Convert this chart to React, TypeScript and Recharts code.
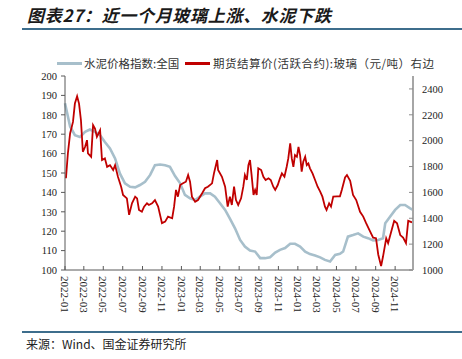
import { LineChart, Line, XAxis, YAxis } from "recharts";

const cementDates = [
  "2022-01-01", "2022-01-17", "2022-02-01", "2022-02-17", "2022-03-05", "2022-03-20", "2022-04-05", "2022-04-21",
  "2022-05-06", "2022-05-22", "2022-06-07", "2022-06-22", "2022-07-08", "2022-07-24", "2022-08-09", "2022-08-24",
  "2022-09-09", "2022-09-25", "2022-10-10", "2022-10-26", "2022-11-11", "2022-11-26", "2022-12-12", "2022-12-28",
  "2023-01-12", "2023-01-28", "2023-02-13", "2023-02-28", "2023-03-16", "2023-04-01", "2023-04-16", "2023-05-02",
  "2023-05-18", "2023-06-02", "2023-06-18", "2023-07-04", "2023-07-19", "2023-08-04", "2023-08-20", "2023-09-05",
  "2023-09-20", "2023-10-06", "2023-10-22", "2023-11-06", "2023-11-22", "2023-12-08", "2023-12-23",
  "2024-01-08", "2024-01-24", "2024-02-08", "2024-02-24", "2024-03-11", "2024-03-26", "2024-04-11", "2024-04-27",
  "2024-05-12", "2024-05-22", "2024-06-06", "2024-06-22", "2024-07-08", "2024-07-24", "2024-08-08", "2024-08-24",
  "2024-09-09", "2024-09-24", "2024-10-01", "2024-10-16", "2024-11-01", "2024-11-17", "2024-12-02", "2024-12-18",
  "2024-12-27",
];
const cementValues = [
  186, 174, 169.5, 168.6, 171.2, 172.4, 171.2, 169.5, 166, 162.7, 157.5, 149.8, 144.7, 142.9, 142.6, 143.8,
  145.5, 149, 154, 154.4, 154, 153.2, 148.4, 144.7,
  138.7, 137, 136.1, 137.8, 139.5, 139.5, 137.8, 134.4, 131, 126.5, 121.5, 115.5, 112.1, 110, 109.5, 106.1,
  106.1, 106.6, 109, 110.4, 111.3, 113.5, 113.5,
  112.1, 109.5, 108.2, 107.5, 106.5, 105.2, 104.4, 107.8, 108.3, 109.5, 117.2, 118, 118.9, 117.2, 116.4, 115.2,
  115.5, 116.4, 124.1, 127.5, 131, 133.5, 133.5, 131.8, 131,
];

const glassDates = [
  "2022-01-04", "2022-01-10", "2022-01-17", "2022-01-26", "2022-02-01", "2022-02-08", "2022-02-14", "2022-02-20",
  "2022-02-26", "2022-03-05", "2022-03-11", "2022-03-14", "2022-03-24", "2022-03-30", "2022-04-05", "2022-04-11",
  "2022-04-21", "2022-04-27", "2022-05-06", "2022-05-13", "2022-05-22", "2022-06-01", "2022-06-07", "2022-06-16",
  "2022-06-26", "2022-07-02", "2022-07-14", "2022-07-21", "2022-07-30", "2022-08-09", "2022-08-15", "2022-08-21",
  "2022-08-30", "2022-09-06", "2022-09-15", "2022-09-21", "2022-10-01", "2022-10-10", "2022-10-20", "2022-11-01",
  "2022-11-11", "2022-11-20", "2022-12-03", "2022-12-09", "2022-12-15", "2022-12-21", "2022-12-28",
  "2023-01-06", "2023-01-15", "2023-01-22", "2023-01-28", "2023-02-03", "2023-02-13", "2023-02-22", "2023-03-07",
  "2023-03-16", "2023-03-25", "2023-04-07", "2023-04-13", "2023-04-23", "2023-04-26", "2023-05-08",
  "2023-05-18", "2023-05-26", "2023-06-02", "2023-06-08", "2023-06-15", "2023-06-21", "2023-06-28", "2023-07-07",
  "2023-07-14", "2023-07-19", "2023-07-25", "2023-07-30", "2023-08-04", "2023-08-09", "2023-08-15", "2023-08-20",
  "2023-08-25", "2023-08-30", "2023-09-08", "2023-09-15", "2023-09-22", "2023-10-01", "2023-10-08", "2023-10-16",
  "2023-10-22", "2023-10-30", "2023-11-06", "2023-11-12", "2023-11-20", "2023-11-27", "2023-12-02", "2023-12-08",
  "2023-12-13", "2023-12-18", "2023-12-23", "2023-12-29",
  "2024-01-03", "2024-01-08", "2024-01-13", "2024-01-18", "2024-01-24", "2024-01-29", "2024-02-03", "2024-02-08",
  "2024-02-16", "2024-02-24", "2024-03-03", "2024-03-11", "2024-03-18", "2024-03-26", "2024-03-31", "2024-04-08",
  "2024-04-14", "2024-04-21", "2024-05-03", "2024-05-12", "2024-05-18", "2024-05-28",
  "2024-06-03", "2024-06-13", "2024-06-22", "2024-07-02", "2024-07-14", "2024-07-24", "2024-08-02", "2024-08-14",
  "2024-08-24", "2024-09-02", "2024-09-09", "2024-09-18", "2024-09-24", "2024-10-04", "2024-10-10", "2024-10-19",
  "2024-10-29", "2024-11-07", "2024-11-17", "2024-11-26", "2024-12-05", "2024-12-12", "2024-12-24",
];
const glassValues = [
  1709, 1901, 2056, 2145, 2287, 2343, 2287, 2158,
  1914, 1953, 2004, 1901, 1875, 2120, 2094, 2030,
  2081, 1850, 1863, 1798, 1811, 1773, 1811, 1721,
  1644, 1580, 1554, 1426, 1516, 1567, 1554, 1464,
  1451, 1490, 1516, 1503, 1516, 1541, 1490, 1362,
  1374, 1413, 1400, 1490, 1619, 1567, 1657,
  1670, 1683, 1734, 1683, 1567, 1528, 1541, 1593,
  1632, 1644, 1670, 1747, 1850, 1773, 1721,
  1644, 1490, 1567, 1503, 1644, 1541, 1503, 1554,
  1644, 1734, 1696, 1811, 1850, 1734, 1580, 1619,
  1580, 1786, 1773, 1721, 1696, 1709, 1696, 1644,
  1619, 1657, 1709, 1747, 1721, 1798, 1863, 1979,
  1863, 1798, 1888, 1875,
  1952, 1888, 1760, 1837, 1875, 1811, 1824, 1786,
  1747, 1696, 1644, 1606, 1567, 1490, 1464, 1516,
  1490, 1567, 1570, 1570, 1620, 1715,
  1734, 1690, 1580, 1541, 1450, 1413, 1362, 1300,
  1250, 1246, 1120, 1030, 1104, 1245, 1207, 1290,
  1380, 1362, 1270, 1250, 1207, 1380, 1368,
];

const xTickLabels = [
  "2022-01", "2022-03", "2022-05", "2022-07", "2022-09", "2022-11",
  "2023-01", "2023-03", "2023-05", "2023-07", "2023-09", "2023-11",
  "2024-01", "2024-03", "2024-05", "2024-07", "2024-09", "2024-11",
];
const leftTicks = [100, 110, 120, 130, 140, 150, 160, 170, 180, 190, 200];
const rightTicks = [1000, 1200, 1400, 1600, 1800, 2000, 2200, 2400];

const DAY = 86400000;
const ORIGIN = Date.UTC(2022, 0, 1);
const dayOf = (s: string) => {
  const [y, m, d] = s.split("-").map(Number);
  return (Date.UTC(y, m - 1, d || 1) - ORIGIN) / DAY;
};

const cementData = cementDates.map((d, i) => ({ t: dayOf(d), v: cementValues[i] }));
const glassData = glassDates.map((d, i) => ({ t: dayOf(d), v: glassValues[i] }));
const xTicks = xTickLabels.map(dayOf);

const serif = "'Liberation Serif', 'DejaVu Serif', serif";
const cjk = "'Noto Sans CJK SC', sans-serif";

function XTick({ x, y, payload }: any) {
  const idx = xTicks.indexOf(payload.value);
  return (
    <text x={x} y={y} dy="0.35em" transform={`rotate(90, ${x}, ${y})`} textAnchor="start"
      fontSize={11} fontFamily={serif} fill="#222">
      {xTickLabels[idx]}
    </text>
  );
}

export default function App() {
  return (
    <div style={{ position: "absolute", left: 0, top: 0, width: 462, height: 359, background: "#fff", overflow: "hidden" }}>
      <div style={{ position: "absolute", left: 27, top: 5, fontSize: 17, lineHeight: "20px", fontStyle: "italic",
        fontWeight: "bold", fontFamily: cjk, color: "#1a1a1a", whiteSpace: "nowrap", letterSpacing: 0.7 }}>
        图表27：近一个月玻璃上涨、水泥下跌
      </div>
      <div style={{ position: "absolute", left: 22, top: 28, width: 440, height: 2, background: "#3d6d8c" }} />

      <div style={{ position: "absolute", left: 57, top: 62, width: 25, height: 3, background: "#a7bfcb" }} />
      <div style={{ position: "absolute", left: 84, top: 56, fontSize: 11.5, lineHeight: "14px", fontFamily: cjk,
        color: "#333", whiteSpace: "nowrap" }}>水泥价格指数:全国</div>
      <div style={{ position: "absolute", left: 185, top: 62, width: 25, height: 3, background: "#c00000" }} />
      <div style={{ position: "absolute", left: 213, top: 56, fontSize: 11.5, lineHeight: "14px", fontFamily: cjk,
        color: "#333", whiteSpace: "nowrap", letterSpacing: 0.5 }}>期货结算价(活跃合约):玻璃（元/吨）右边</div>

      <div style={{ position: "absolute", left: 0, top: 0 }}>
        <LineChart width={462} height={359} margin={{ top: 76, right: 0, bottom: 39, left: 25 }}>
          <XAxis dataKey="t" type="number" domain={[0, "dataMax"]} ticks={xTicks} interval={0} height={50}
            tick={<XTick />} tickSize={-4} tickMargin={10}
            axisLine={{ stroke: "#595959" }} tickLine={{ stroke: "#595959" }} />
          <YAxis yAxisId="left" domain={[100, 200]} ticks={leftTicks} interval={0} width={40}
            tickSize={4} tickMargin={4} axisLine={{ stroke: "#595959" }} tickLine={{ stroke: "#595959" }}
            tick={{ fontSize: 10.5, fontFamily: serif, fill: "#222" }} />
          <YAxis yAxisId="right" orientation="right" domain={[1000, 2500]} ticks={rightTicks} interval={0} width={49}
            tickSize={-4} tickMargin={13} axisLine={{ stroke: "#a6a6a6", strokeWidth: 2 }}
            tickLine={{ stroke: "#8c8c8c" }} tick={{ fontSize: 10.5, fontFamily: serif, fill: "#222" }} />
          <Line yAxisId="left" data={cementData} dataKey="v" type="linear" stroke="#a7bfcb" strokeWidth={2.6}
            dot={false} isAnimationActive={false} />
          <Line yAxisId="right" data={glassData} dataKey="v" type="linear" stroke="#c00000" strokeWidth={1.8}
            dot={false} isAnimationActive={false} />
        </LineChart>
      </div>

      <div style={{ position: "absolute", left: 22, top: 331, width: 440, height: 2, background: "#3d6d8c" }} />
      <div style={{ position: "absolute", left: 26, top: 336, fontSize: 12, lineHeight: "15px", fontFamily: cjk,
        color: "#222", whiteSpace: "nowrap" }}>来源：Wind、国金证券研究所</div>
    </div>
  );
}
